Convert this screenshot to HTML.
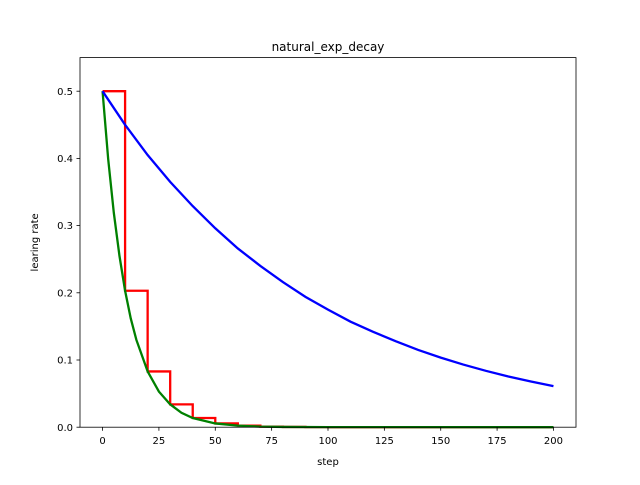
<!DOCTYPE html>
<html><head><meta charset="utf-8"><style>body{margin:0;background:#fff}svg text{font-family:"DejaVu Sans","Liberation Sans",sans-serif;fill:#000}</style></head>
<body>
<svg id="chart" width="640" height="480" xmlns="http://www.w3.org/2000/svg">
<rect width="640" height="480" fill="#fff"/>
<g id="plot"></g>
</svg>
<script>
const xTicks=[0,25,50,75,100,125,150,175,200];
const yTicks=[0.0,0.1,0.2,0.3,0.4,0.5];
const yTickLabels=["0.0","0.1","0.2","0.3","0.4","0.5"];
const blueSteps=[0,10,20,30,40,50,60,70,80,90,100,110,120,130,140,150,160,170,180,190,200];
const blueValues=[0.5,0.450,0.405,0.365,0.329,0.296,0.266,0.240,0.216,0.194,0.175,0.157,0.142,0.128,0.115,0.1035,0.0932,0.0839,0.0755,0.0680,0.0612];
const greenSteps=[0,2.5,5,7.5,10,12.5,15,20,25,30,35,40,50,60,70,80,100,200];
const greenValues=[0.5,0.399,0.319,0.255,0.203,0.162,0.130,0.083,0.053,0.034,0.0215,0.0137,0.0056,0.0023,0.0009,0.0004,0.0001,0];
const redStepStarts=[0,10,20,30,40,50,60,70,80,90,100,110,120,130,140,150,160,170,180,190];
const redValues=[0.5,0.203,0.083,0.034,0.0137,0.0056,0.0023,0.0009,0.0004,0.0001,0,0,0,0,0,0,0,0,0,0];
const L=80,R=576,T=57.6,B=427.2,xmin=-10,xmax=210,ymin=0,ymax=0.55;
const sx=v=>L+(v-xmin)/(xmax-xmin)*(R-L);
const sy=v=>B-(v-ymin)/(ymax-ymin)*(B-T);
const NS="http://www.w3.org/2000/svg";
const g=document.getElementById('plot');
function mk(tag,attrs,parent){const e=document.createElementNS(NS,tag);for(const k in attrs)e.setAttribute(k,attrs[k]);(parent||g).appendChild(e);return e;}
// red staircase
let rp=[];
redStepStarts.forEach((s,i)=>{const e=i<redStepStarts.length-1?redStepStarts[i+1]:200;rp.push(sx(s)+','+sy(redValues[i]));rp.push(sx(e)+','+sy(redValues[i]));});
let red=mk('polyline',{points:rp.join(' '),fill:'none',stroke:'#ff0000','stroke-width':2.3,'stroke-linejoin':'miter'});


let gp=greenSteps.map((s,i)=>sx(s)+','+sy(greenValues[i]));
let green=mk('polyline',{points:gp.join(' '),fill:'none',stroke:'#008000','stroke-width':2.3});


let bp=blueSteps.map((s,i)=>sx(s)+','+sy(blueValues[i]));
let blue=mk('polyline',{points:bp.join(' '),fill:'none',stroke:'#0000ff','stroke-width':2.3});


let fr=mk('rect',{x:L,y:T,width:R-L,height:B-T,fill:'none',stroke:'#000','stroke-width':0.8});


xTicks.forEach(t=>{const x=sx(t);
 let l=mk('line',{x1:x,x2:x,y1:B,y2:B+3.5,stroke:'#000','stroke-width':0.8});
 
 
 let tx=mk('text',{x:x,y:B+17,'text-anchor':'middle','font-size':10});tx.textContent=t;
 
 });
yTicks.forEach((t,i)=>{const y=sy(t);
 let l=mk('line',{x1:L-3.5,x2:L,y1:y,y2:y,stroke:'#000','stroke-width':0.8});
 
 
 let tx=mk('text',{x:L-7,y:y+3.6,'text-anchor':'end','font-size':10});tx.textContent=yTickLabels[i];
 
 });
let title=mk('text',{x:(L+R)/2,y:51,'text-anchor':'middle','font-size':12});title.textContent='natural_exp_decay';


let xl=mk('text',{x:(L+R)/2,y:465,'text-anchor':'middle','font-size':10});xl.textContent='step';


let yl=mk('text',{x:0,y:0,'text-anchor':'middle','font-size':10,transform:'translate(38,'+((T+B)/2)+') rotate(-90)'});yl.textContent='learing rate';


</script>
</body></html>
